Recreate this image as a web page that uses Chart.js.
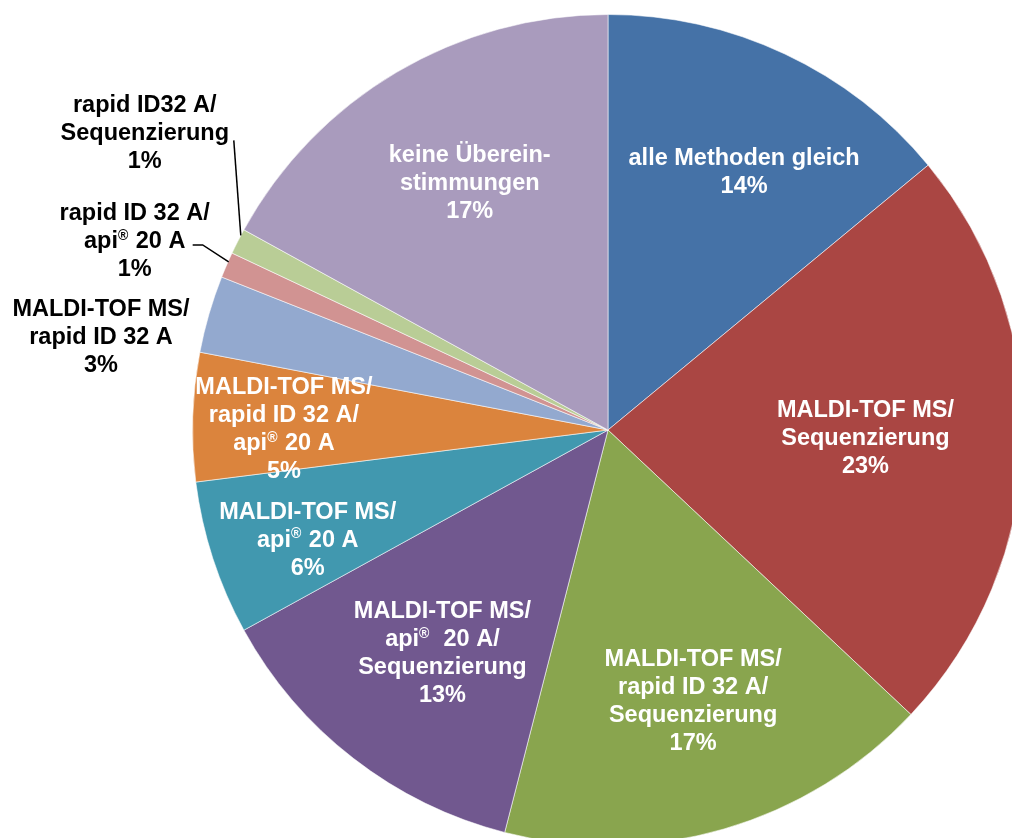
<!DOCTYPE html>
<html>
<head>
<meta charset="utf-8">
<script src="https://cdn.jsdelivr.net/npm/chart.js@4/dist/chart.umd.min.js"></script>
<style>
  html, body { margin: 0; padding: 0; overflow: hidden; background: #fff; }
  #wrap { position: absolute; left: 0; top: 0; width: 1040px; height: 860px; }
</style>
</head>
<body>
<div id="wrap"><canvas id="pie" width="1040" height="860"></canvas></div>
<script>
// categories, clockwise from 12 o'clock
const categories = [
    ['alle Methoden gleich'],
    ['MALDI-TOF MS/', 'Sequenzierung'],
    ['MALDI-TOF MS/', 'rapid ID 32 A/', 'Sequenzierung'],
    ['MALDI-TOF MS/', 'api®  20 A/', 'Sequenzierung'],
    ['MALDI-TOF MS/', 'api® 20 A'],
    ['MALDI-TOF MS/', 'rapid ID 32 A/', 'api® 20 A'],
    ['MALDI-TOF MS/', 'rapid ID 32 A'],
    ['rapid ID 32 A/', 'api® 20 A'],
    ['rapid ID32 A/', 'Sequenzierung'],
    ['keine Überein-', 'stimmungen']
];
const shares = [14, 23, 17, 13, 6, 5, 3, 1, 1, 17];

const colors = ['#4572A7', '#AA4643', '#89A54E', '#71588F', '#4198AF',
                '#DB843D', '#93A9CF', '#D19392', '#B9CD96', '#A99BBD'];

// label placement: inside labels -> fraction of radius + angle nudge (deg)
// outside labels -> offset from the arc edge + leader line offsets
const labelPlace = [
    {r: 0.70, da: 2.7},
    {r: 0.62, da: 0.1},
    {r: 0.685, da: -1.2},
    {r: 0.67, da: -1.3},
    {r: 0.77, da: -2.2},
    {r: 0.78, da: -1.8},
    {out: [-108, 23]},
    {out: [-92, -23], leader: [[2, -3], [-24, -20], [-34, -20]]},
    {out: [-93, -108], leader: [[3, -6], [-4, -101]]},
    {r: 0.68, da: 1.3}
];

const FONT = 'bold 23.5px "Liberation Sans", Arial, sans-serif';
const SUP = 'bold 14px "Liberation Sans", Arial, sans-serif';
const LINE_H = 28;

// draws a line, with ® as a small raised sign
function lineWidth(ctx, txt) {
    let w = 0;
    txt.split('®').forEach((part, i) => {
        if (i > 0) { ctx.font = SUP; w += ctx.measureText('®').width + 1; }
        ctx.font = FONT;
        w += ctx.measureText(part).width;
    });
    return w;
}

function drawLine(ctx, txt, cx, y) {
    let x = cx - lineWidth(ctx, txt) / 2;
    txt.split('®').forEach((part, i) => {
        if (i > 0) {
            ctx.font = SUP;
            ctx.fillText('®', x, y - 6);
            x += ctx.measureText('®').width + 1;
        }
        ctx.font = FONT;
        ctx.fillText(part, x, y);
        x += ctx.measureText(part).width;
    });
}

const labelPlugin = {
    id: 'sliceLabels',
    afterDatasetsDraw(chart) {
        const ctx = chart.ctx;
        const meta = chart.getDatasetMeta(0);
        const total = shares.reduce((a, b) => a + b, 0);
        ctx.save();
        ctx.textAlign = 'left';
        ctx.textBaseline = 'middle';
        meta.data.forEach((arc, i) => {
            const p = arc.getProps(['x', 'y', 'startAngle', 'endAngle', 'outerRadius'], true);
            const mid = (p.startAngle + p.endAngle) / 2;
            const place = labelPlace[i];
            const lines = categories[i].concat([Math.round(shares[i] / total * 100) + '%']);
            let lx, ly;
            if (place.out) {
                const ex = p.x + p.outerRadius * Math.cos(mid);
                const ey = p.y + p.outerRadius * Math.sin(mid);
                lx = ex + place.out[0];
                ly = ey + place.out[1];
                ctx.fillStyle = '#000';
                if (place.leader) {
                    ctx.strokeStyle = '#000';
                    ctx.lineWidth = 1.5;
                    ctx.beginPath();
                    place.leader.forEach((o, k) => {
                        if (k === 0) ctx.moveTo(ex + o[0], ey + o[1]);
                        else ctx.lineTo(ex + o[0], ey + o[1]);
                    });
                    ctx.stroke();
                }
            } else {
                const a = mid + place.da * Math.PI / 180;
                lx = p.x + p.outerRadius * place.r * Math.cos(a);
                ly = p.y + p.outerRadius * place.r * Math.sin(a);
                ctx.fillStyle = '#fff';
            }
            const top = ly - (lines.length - 1) * LINE_H / 2;
            lines.forEach((t, k) => drawLine(ctx, t, lx, top + k * LINE_H));
        });
        ctx.restore();
    }
};

new Chart(document.getElementById('pie'), {
    type: 'pie',
    data: {
        labels: categories.map(c => c.join(' ')),
        datasets: [{
            data: shares,
            backgroundColor: colors,
            borderColor: 'rgba(255,255,255,0.55)',
            borderWidth: 1
        }]
    },
    options: {
        responsive: false,
        animation: false,
        layout: {padding: {left: 192, right: 16, top: 14, bottom: 14}},
        plugins: {legend: {display: false}, tooltip: {enabled: false}}
    },
    plugins: [labelPlugin]
});
</script>
</body>
</html>
